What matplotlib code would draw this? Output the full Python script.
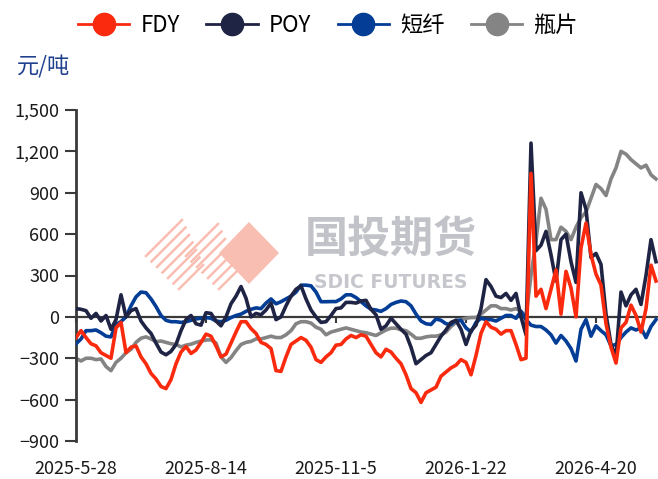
import numpy as np
import matplotlib
matplotlib.use('Agg')
import matplotlib.pyplot as plt
from matplotlib.lines import Line2D
from matplotlib.patches import Polygon

plt.rcParams['font.family'] = ['Noto Sans CJK SC', 'DejaVu Sans']

# x axis is a trading-day category axis; labels every 26 points
tick_pos = [0, 26, 52, 78, 104]
tick_labels = ['2025-5-28', '2025-8-14', '2025-11-5', '2026-1-22', '2026-4-20']

fdy = [-150, -100, -150, -195, -210, -260, -280, -300, -80, -40,
       -260, -220, -210, -290, -340, -410, -450, -505, -520, -455,
       -340, -255, -215, -265, -240, -185, -125, -140, -210, -290,
       -270, -190, -110, -35, -35, -85, -120, -185, -200, -230,
       -390, -395, -290, -200, -175, -150, -170, -220, -310, -330,
       -290, -260, -205, -200, -160, -135, -150, -130, -140, -200,
       -260, -290, -235, -255, -300, -340, -420, -520, -550, -620,
       -550, -530, -510, -430, -400, -370, -350, -310, -330, -420,
       -280, -120, -35, -75, -90, -125, -100, -100, -200, -310,
       -300, 1040, 150, 200, 60, 200, 340, 20, 330, 210,
       0, 500, 680, 450, 310, 230, -50, -220, -335, -80,
       -40, 85, 10, -110, 60, 375, 260]

poy = [60, 55, 45, -10, 25, -30, 10, -90, -20, 160,
       0, 45, 60, -30, -80, -120, -190, -255, -275, -250,
       -200, -100, -20, 10, -50, -60, 30, 25, -30, -65,
       0, 95, 150, 220, 135, 0, 25, 15, 50, 100,
       -20, 0, 80, 150, 200, 225, 130, 50, 0, -40,
       -35, 10, 60, 65, 105, 105, 100, 115, 120, 55,
       15, -90, -65, -10, -50, -90, -125, -220, -340, -310,
       -280, -260, -200, -140, -95, -40, -25, -90, -200, -100,
       -60, 60, 270, 220, 150, 140, 170, 120, 170, 0,
       -130, 1260, 480, 520, 620, 450, 260, 560, 600, 400,
       250, 900, 780, 430, 460, 380, 20, -200, -290, 180,
       80, 160, 200, 90, 300, 560, 400]

psf = [-195, -160, -100, -100, -95, -115, -140, -145, -55, -34,
       0, 80, 145, 180, 175, 130, 75, 10, -25, -35,
       -35, -40, -35, -25, -15, -10, -5, -10, -30, -35,
       -25, -5, 10, 20, 40, 55, 65, 60, 100, 130,
       95, 110, 130, 150, 180, 230, 230, 225, 180, 110,
       110, 111, 111, 130, 160, 160, 140, 111, 80, 55,
       50, 40, 60, 90, 105, 115, 110, 80, 20, -30,
       -50, -55, -15, -25, -50, -55, -25, -25, -80, -110,
       -40, -10, -20, -20, -30, -10, 10, 10, -10, 40,
       -20, -60, -70, -70, -95, -130, -190, -135, -175, -230,
       -320, -90, -20, -140, -65, -100, -130, -210, -200, -150,
       -110, -80, -95, -80, -150, -70, -20]

pet = [-300, -320, -300, -300, -310, -305, -360, -390, -330, -300,
       -260, -235, -185, -155, -145, -160, -180, -175, -185, -195,
       -200, -218, -205, -198, -185, -176, -168, -166, -190, -290,
       -330, -295, -245, -200, -185, -178, -160, -160, -150, -140,
       -150, -150, -130, -100, -50, -35, -35, -45, -75, -90,
       -130, -110, -100, -90, -80, -90, -100, -110, -115, -125,
       -135, -115, -95, -82, -82, -94, -100, -125, -155, -155,
       -145, -140, -140, -130, -110, -70, -40, -20, -10, -5,
       -5, 20, 50, 80, 80, 60, 60, 50, 60, 40,
       0, 300, 550, 860, 780, 560, 560, 650, 620, 560,
       650, 720, 760, 860, 960, 930, 880, 1000, 1080, 1200,
       1180, 1140, 1110, 1080, 1100, 1030, 1000]

names = ['FDY', 'POY', '短纤', '瓶片']
colors = ['#FA2A0E', '#1F2444', '#033D95', '#848484']

W, H = 658, 479
fig = plt.figure(figsize=(W / 100, H / 100), dpi=100)
ax = fig.add_axes([76 / W, 38 / H, 582 / W, 331 / H])

def fx(px):
    return px / W

def fy(py):
    return 1 - py / H

# watermark logo
wm = '#F9BEB2'
for i in range(7):
    x0, y0 = 146 + 5.5 * i, 256 + 5.5 * i
    L = 36 - 2 * i
    fig.add_artist(Line2D([fx(x0), fx(x0 + L)], [fy(y0), fy(y0 - L)],
                          color=wm, lw=1.8, zorder=0))
for i in range(7):
    x0, y0 = 186 + 5.5 * i, 256 + 5.5 * i
    L = 32 - 2 * i
    fig.add_artist(Line2D([fx(x0), fx(x0 + L)], [fy(y0), fy(y0 - L)],
                          color=wm, lw=1.8, zorder=0))
fig.add_artist(Polygon([(fx(219), fy(253)), (fx(249), fy(222)),
                        (fx(279), fy(253)), (fx(249), fy(284))],
                       closed=True, facecolor=wm, edgecolor='none', zorder=0))
fig.text(fx(391), fy(240), '国投期货', fontsize=31, fontweight='bold',
         color='#C2C3C9', ha='center', va='center', zorder=0)
fig.text(fx(391), fy(282), 'SDIC FUTURES', fontsize=13.5, fontweight='bold',
         family='DejaVu Sans', color='#C6C7CD', ha='center', va='center',
         zorder=0)
ax.patch.set_alpha(0)

x = np.arange(len(fdy))
ax.axhline(0, color='#3A3A3A', lw=1.6, zorder=1)
series = [fdy, poy, psf, pet]
zorders = [5, 4, 3, 2]
for s, c, z in zip(series, colors, zorders):
    ax.plot(x, s, color=c, lw=2.6, zorder=z, solid_joinstyle='round')

ax.set_xlim(0, 582 / 5)
ax.set_ylim(-900, 1500)
yt = np.arange(-900, 1501, 300)
ax.set_yticks(yt)
ax.set_yticklabels([f'{v:,}'.replace('-', '\u2212') for v in yt])
ax.tick_params(axis='y', direction='out', length=8, width=1.5, color='#3A3A3A',
               labelsize=13, pad=4, labelcolor='#1A1A1A')

ax.set_xticks(tick_pos)
ax.set_xticklabels(tick_labels)
ax.tick_params(axis='x', length=0, pad=14, labelsize=13, labelcolor='#1A1A1A')

for sp in ['top', 'right', 'bottom']:
    ax.spines[sp].set_visible(False)
ax.spines['left'].set_color('#3A3A3A')
ax.spines['left'].set_linewidth(2)

# small ticks on the zero line
sec = ax.secondary_xaxis(0.375)
sec.set_xticks(tick_pos)
sec.tick_params(axis='x', direction='out', length=4, width=1.5, color='#3A3A3A',
                labelbottom=False)
sec.spines['bottom'].set_visible(False)

fig.text(fx(17), fy(67), '元/吨', fontsize=16, color='#1F3F8F',
         ha='left', va='center')

handles = [Line2D([], [], color=c, lw=2, marker='o', markersize=16,
                  markerfacecolor=c, markeredgecolor=c) for c in colors]
fig.legend(handles, names, loc='center', bbox_to_anchor=(fx(328), fy(25)),
           ncol=4, frameon=False, fontsize=16, handlelength=2.3,
           handletextpad=0.5, columnspacing=1.2, borderaxespad=0)

fig.savefig('out.png', dpi=100)
